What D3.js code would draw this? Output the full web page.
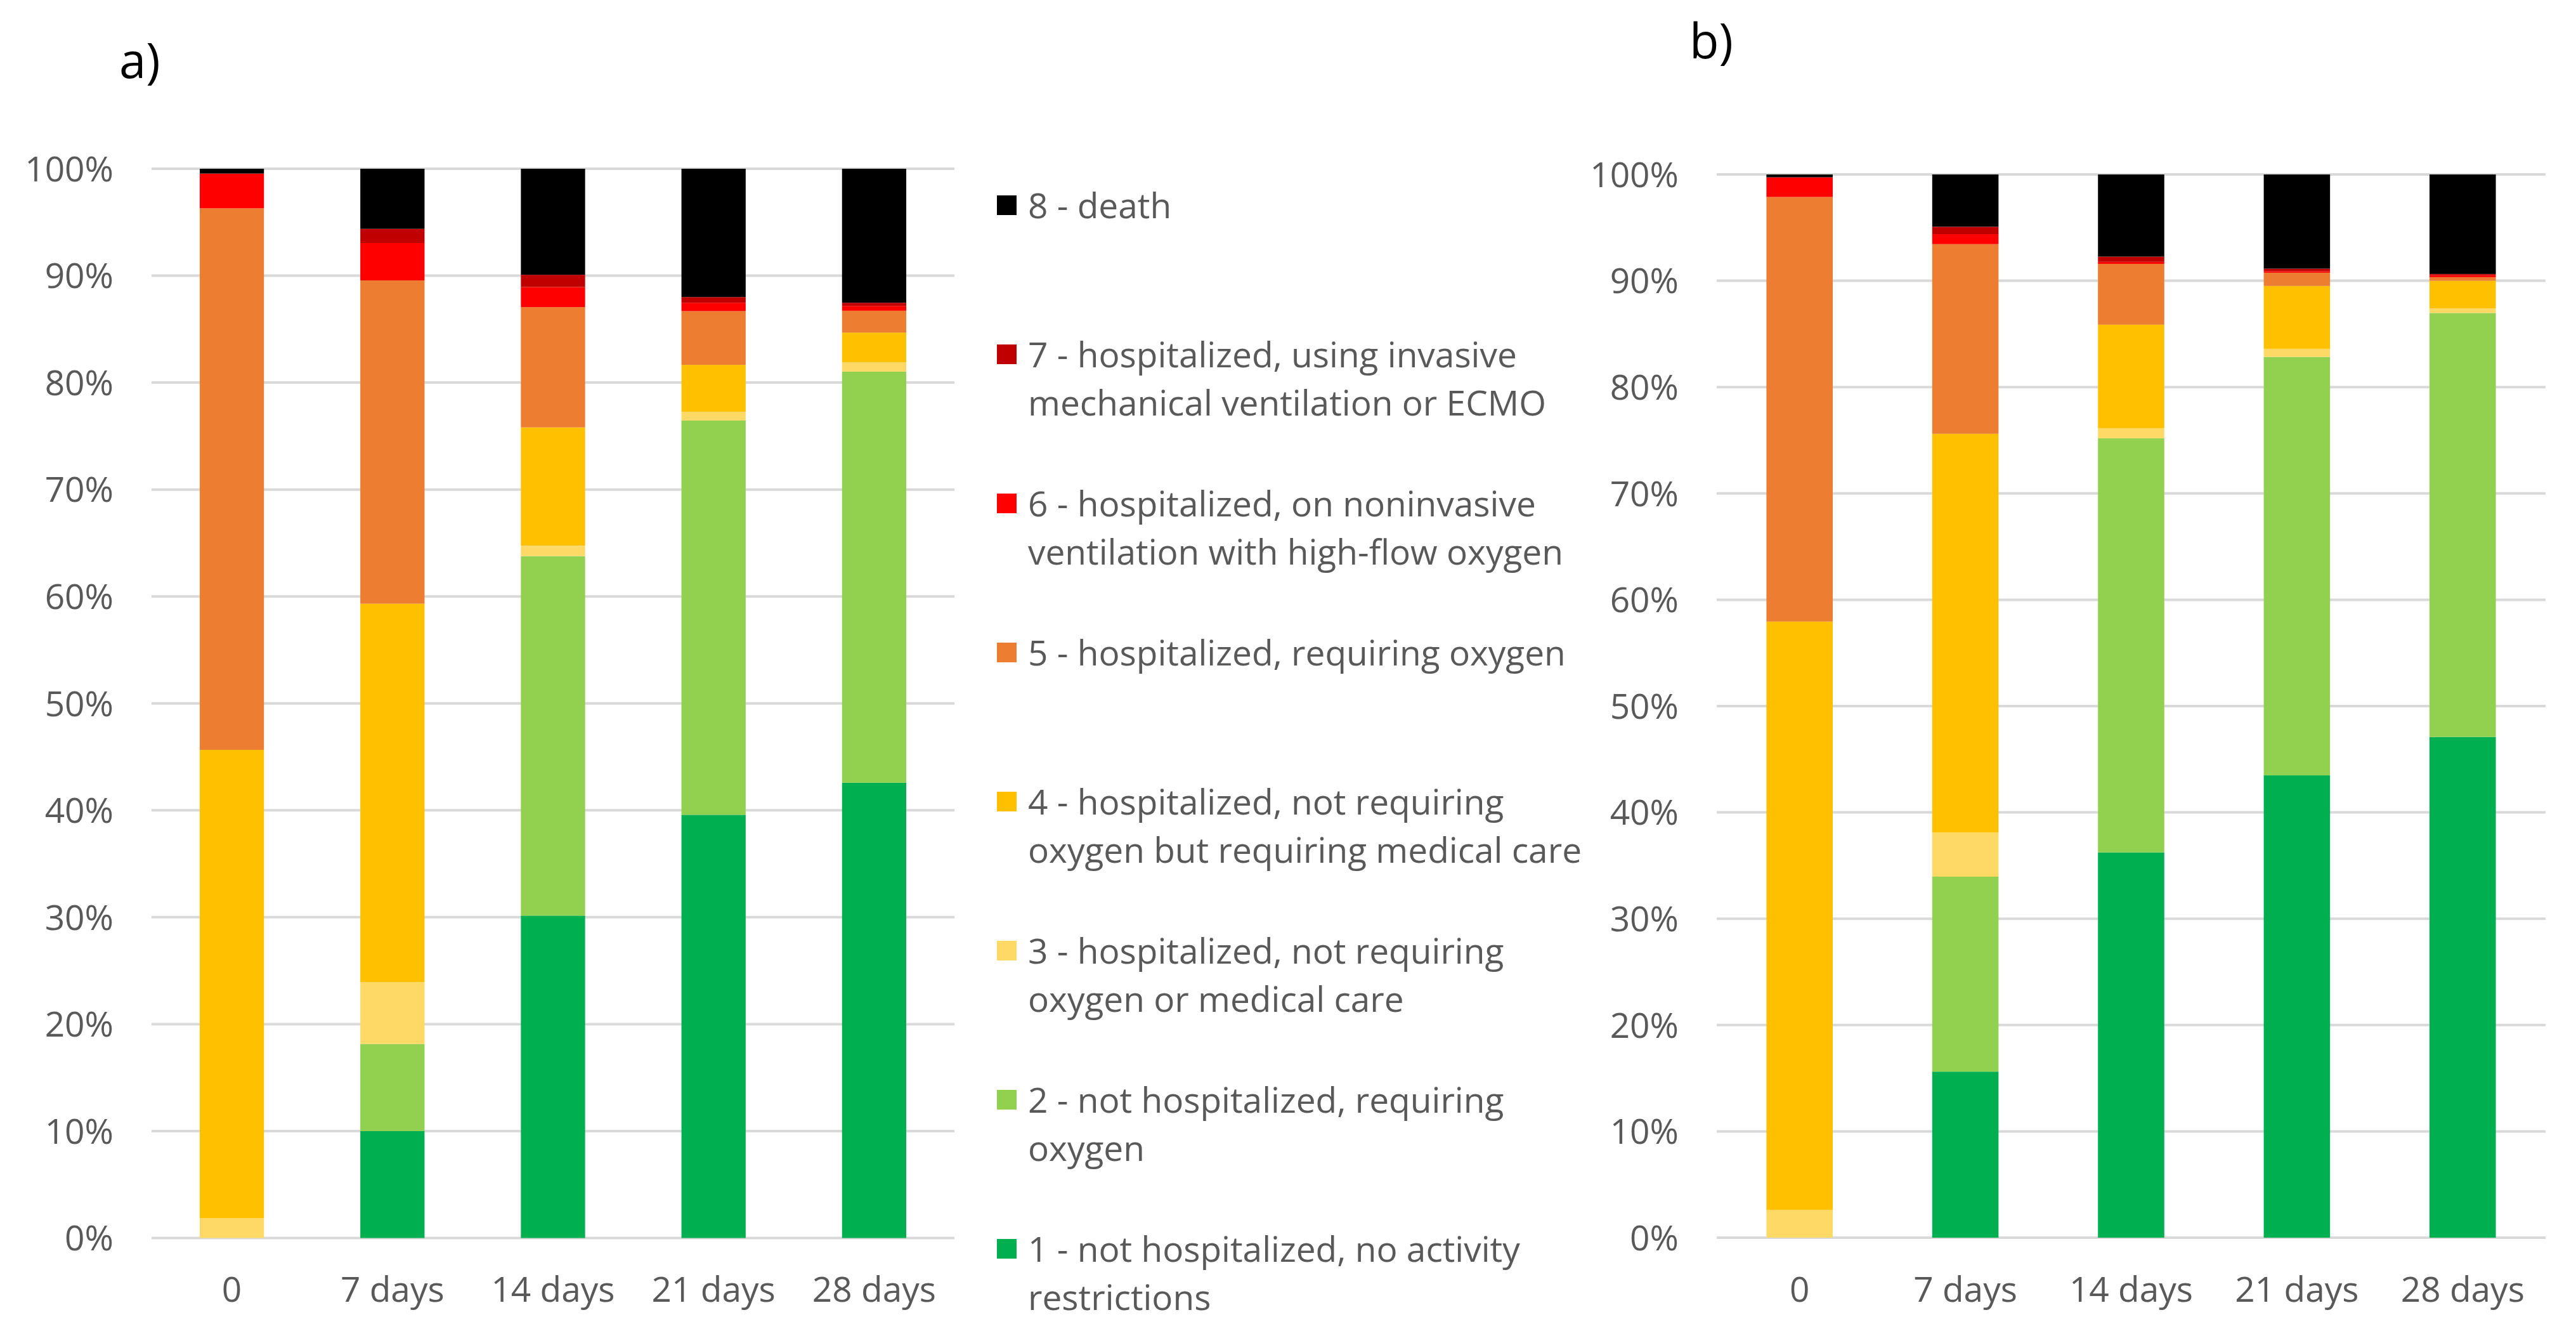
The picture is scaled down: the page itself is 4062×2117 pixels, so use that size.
<!DOCTYPE html>
<html lang="en">
<head>
    <meta charset="UTF-8">
    <title>ordinal scale stacked bars</title>
    <script src="https://cdn.jsdelivr.net/npm/d3@7"></script>
    <style>
        body { margin: 0; background: #fff; }
        text { font-family: "Open Sans", sans-serif; }
    </style>
</head>
<body>
<svg id="fig" width="4062" height="2117"></svg>
<script>
    // time points
    let days = ["0", "7 days", "14 days", "21 days", "28 days"]
    // ordinal scale categories, bottom to top
    let cats = ["1", "2", "3", "4", "5", "6", "7", "8"]
    let catLabels = [
        ["1 - not hospitalized, no activity", "restrictions"],
        ["2 - not hospitalized, requiring", "oxygen"],
        ["3 - hospitalized, not requiring", "oxygen or medical care"],
        ["4 - hospitalized, not requiring", "oxygen but requiring medical care"],
        ["5 - hospitalized, requiring oxygen"],
        ["6 - hospitalized, on noninvasive", "ventilation with high-flow oxygen"],
        ["7 - hospitalized, using invasive", "mechanical ventilation or ECMO"],
        ["8 - death"]
    ]
    let colors = ["#00B050", "#92D050", "#FFD966", "#FFC000", "#ED7D31", "#FF0000", "#C00000", "#000000"]

    // panel a) percentages per category, one value per time point
    let a_s1 = [0, 10.0, 30.15, 39.58, 42.58]
    let a_s2 = [0, 8.15, 33.62, 36.87, 38.44]
    let a_s3 = [1.85, 5.77, 0.98, 0.83, 0.87]
    let a_s4 = [43.8, 35.4, 11.06, 4.38, 2.79]
    let a_s5 = [50.65, 30.23, 11.25, 5.02, 2.04]
    let a_s6 = [3.25, 3.51, 1.88, 0.79, 0.45]
    let a_s7 = [0, 1.32, 1.14, 0.53, 0.30]
    let a_s8 = [0.45, 5.62, 9.92, 12.0, 12.53]

    // panel b)
    let b_s1 = [0, 15.62, 36.24, 43.49, 47.1]
    let b_s2 = [0, 18.33, 38.95, 39.35, 39.87]
    let b_s3 = [2.6, 4.15, 0.95, 0.76, 0.42]
    let b_s4 = [55.35, 37.51, 9.73, 5.91, 2.61]
    let b_s5 = [39.93, 17.84, 5.72, 1.25, 0.34]
    let b_s6 = [1.85, 0.94, 0.19, 0.15, 0.19]
    let b_s7 = [0, 0.69, 0.49, 0.23, 0.11]
    let b_s8 = [0.27, 4.92, 7.73, 8.86, 9.36]

    let yTicks = [0, 10, 20, 30, 40, 50, 60, 70, 80, 90, 100]

    let svg = d3.select("#fig")
    let grey = "#595959"

    function toRows(series) {
        return days.map(function (d, i) {
            let row = {day: d}
            cats.forEach(function (c, j) { row[c] = series[j][i] })
            return row
        })
    }

    function panel(series, x0, x1, yTop, yBottom, labelRight) {
        let x = d3.scaleBand().domain(days).range([x0, x1])
            .paddingInner(0.6).paddingOuter(0.3)
        let y = d3.scaleLinear().domain([0, 100]).range([yBottom, yTop])
        let g = svg.append("g")

        // gridlines
        g.selectAll(".grid").data(yTicks).join("line")
            .attr("x1", x0).attr("x2", x1)
            .attr("y1", d => y(d)).attr("y2", d => y(d))
            .attr("stroke", "#D9D9D9").attr("stroke-width", 4)

        // y tick labels
        g.selectAll(".yl").data(yTicks).join("text")
            .attr("x", labelRight).attr("y", d => y(d))
            .attr("dy", "0.36em")
            .attr("text-anchor", "end")
            .attr("font-size", 55).attr("fill", grey)
            .text(d => d + "%")

        // stacked bars
        let stack = d3.stack().keys(cats)(toRows(series))
        g.selectAll(".layer").data(stack).join("g")
            .attr("fill", (d, i) => colors[i])
            .selectAll("rect").data(d => d).join("rect")
            .attr("x", d => x(d.data.day))
            .attr("width", x.bandwidth())
            .attr("y", d => y(d[1]))
            .attr("height", d => y(d[0]) - y(d[1]))

        // x labels
        g.selectAll(".xl").data(days).join("text")
            .attr("x", d => x(d) + x.bandwidth() / 2)
            .attr("y", 2052)
            .attr("text-anchor", "middle")
            .attr("font-size", 55).attr("fill", grey)
            .text(d => d)
    }

    panel([a_s1, a_s2, a_s3, a_s4, a_s5, a_s6, a_s7, a_s8], 239, 1505, 266, 1951.5, 179)
    panel([b_s1, b_s2, b_s3, b_s4, b_s5, b_s6, b_s7, b_s8], 2707, 4014, 275, 1951, 2647)

    // legend, top item is category 8
    let legendOrder = d3.range(cats.length).reverse()
    let lg = svg.append("g")
    legendOrder.forEach(function (ci, k) {
        let yy = 324 + k * 235
        lg.append("rect")
            .attr("x", 1572).attr("y", yy - 16)
            .attr("width", 31).attr("height", 31)
            .attr("fill", colors[ci])
        catLabels[ci].forEach(function (line, li) {
            lg.append("text")
                .attr("x", 1621).attr("y", yy + li * 76)
                .attr("dy", "0.36em")
                .attr("font-size", 55).attr("fill", grey)
                .text(line)
        })
    })

    // panel labels
    svg.append("text").attr("x", 188).attr("y", 123)
        .attr("font-size", 76).attr("fill", "#000").text("a)")
    svg.append("text").attr("x", 2664).attr("y", 92)
        .attr("font-size", 76).attr("fill", "#000").text("b)")
</script>
</body>
</html>
